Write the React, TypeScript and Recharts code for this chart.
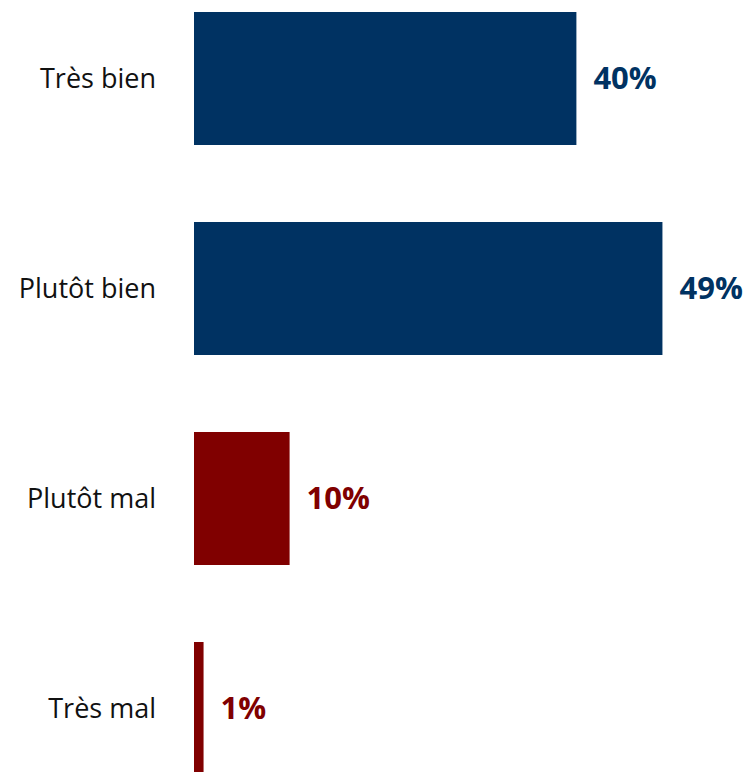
import React from 'react'
import { BarChart, Bar, XAxis, YAxis, Cell, LabelList } from 'recharts';

const categories = ['Très bien', 'Plutôt bien', 'Plutôt mal', 'Très mal'];
const shares = [40, 49, 10, 1];
const colors = ['#003262', '#003262', '#800000', '#800000'];

const data = categories.map((name, i) => ({ name, value: shares[i], color: colors[i] }));

const ValueLabel = (props: any) => {
  const { x, y, width, height, index } = props;
  return (
    <text
      x={x + width + 17}
      y={y + height / 2}
      dy="0.35em"
      fill={colors[index]}
      fontFamily="'Open Sans', sans-serif"
      fontWeight="bold"
      fontSize={31}
    >
      {shares[index]}%
    </text>
  );
};

const App = () => {
  return (
    <div style={{ position: 'absolute', left: 0, top: 0, width: 750, height: 772, overflow: 'hidden', background: '#fff' }}>
      <div style={{ position: 'relative', top: -27 }}>
        <BarChart
          width={750}
          height={840}
          data={data}
          layout="vertical"
          margin={{ top: 0, right: 78, bottom: 0, left: 0 }}
          barSize={133}
        >
          <XAxis type="number" domain={[0, 50]} hide />
          <YAxis
            type="category"
            dataKey="name"
            width={194}
            axisLine={false}
            tickLine={false}
            tickSize={0}
            tickMargin={38}
            tick={{ fill: '#111', fontSize: 27, fontFamily: "'Open Sans', sans-serif" }}
          />
          <Bar dataKey="value" isAnimationActive={false}>
            {data.map((d, i) => (
              <Cell key={i} fill={d.color} />
            ))}
            <LabelList dataKey="value" content={ValueLabel} />
          </Bar>
        </BarChart>
      </div>
    </div>
  )
}

export default App
